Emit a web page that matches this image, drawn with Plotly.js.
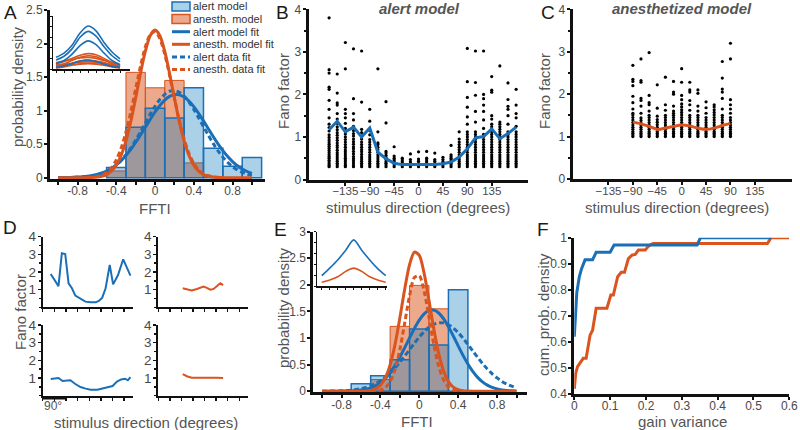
<!DOCTYPE html>
<html><head><meta charset="utf-8">
<script src="https://cdn.plot.ly/plotly-3.0.1.min.js"></script>
<style>html,body{margin:0;padding:0;background:#fff}#plot{width:800px;height:430px}</style>
</head><body><div id="plot"></div><script>
// ---------- DATA ----------
const fftiTickVals = [-1.0,-0.8,-0.6,-0.4,-0.2,0,0.2,0.4,0.6,0.8,1.0];
const fftiTickText = ['','-0.8','','-0.4','','0','','0.4','','0.8',''];
const aAlertBinX = [-0.4,-0.2,0,0.2,0.4,0.6,0.8,1.0];
const aAlertHist = [0.15,0.75,1.035,0.89,1.34,0.44,0.17,0.3];
const aAnesthBinX = [-0.4,-0.2,0,0.2,0.4];
const aAnesthHist = [0.1,1.57,1.34,1.45,0.22];
const eAlertBinX = [-0.6,-0.4,-0.2,0,0.2,0.4];
const eAlertHist = [0.14,0.29,0.59,1.17,0.87,1.91];
const eAnesthBinX = [-0.4,-0.2,0,0.2];
const eAnesthHist = [0.22,1.22,1.99,1.55];
const fitX = [-1.0,-0.95,-0.9,-0.85,-0.8,-0.75,-0.7,-0.65,-0.6,-0.55,-0.5,-0.45,-0.4,-0.35,-0.3,-0.25,-0.2,-0.15,-0.1,-0.05,0,0.05,0.1,0.15,0.2,0.25,0.3,0.35,0.4,0.45,0.5,0.55,0.6,0.65,0.7,0.75,0.8,0.85,0.9,0.95,1.0];
const aAlertModelFit = [0.001,0.002,0.003,0.005,0.008,0.013,0.020,0.031,0.047,0.069,0.099,0.139,0.19,0.254,0.331,0.421,0.524,0.636,0.752,0.868,0.979,1.077,1.156,1.211,1.238,1.235,1.202,1.142,1.059,0.958,0.846,0.729,0.613,0.503,0.403,0.315,0.240,0.178,0.130,0.092,0.064];
const aAnesthModelFit = [0,0,0,0,0,0,0.001,0.003,0.009,0.021,0.046,0.097,0.186,0.332,0.549,0.838,1.187,1.555,1.886,2.117,2.2,2.117,1.886,1.555,1.187,0.838,0.549,0.332,0.186,0.097,0.046,0.021,0.009,0.003,0.001,0,0,0,0,0,0];
const aAlertDataFit = [0.0005,0.001,0.0018,0.0032,0.0056,0.0096,0.016,0.026,0.041,0.062,0.092,0.134,0.188,0.257,0.342,0.443,0.558,0.684,0.815,0.944,1.064,1.166,1.243,1.288,1.299,1.274,1.215,1.127,1.018,0.893,0.762,0.633,0.511,0.401,0.306,0.228,0.164,0.116,0.079,0.053,0.034];
const aAnesthDataFit = [null,null,null,null,null,null,0.003,0.0075,0.018,0.038,0.078,0.149,0.265,0.44,0.68,0.982,1.322,1.661,1.949,2.132,2.177,2.074,1.844,1.529,1.183,0.855,0.576,0.362,0.213,0.116,0.059,0.028,0.013,0.005,0.002,null,null,null,null,null,null];
const eAlertModelFit = [0.0001,0.0002,0.0003,0.0007,0.0015,0.0031,0.0062,0.012,0.0216,0.038,0.064,0.104,0.162,0.242,0.349,0.482,0.640,0.817,1.002,1.181,1.337,1.454,1.519,1.525,1.471,1.363,1.214,1.039,0.854,0.675,0.512,0.373,0.261,0.176,0.114,0.071,0.042,0.024,0.013,0.007,0.004];
const eAnesthModelFit = [0,0,0,0,0,0,0.0002,0.0006,0.0013,0.005,0.015,0.044,0.110,0.248,0.494,0.875,1.376,1.919,2.379,2.616,2.555,2.215,1.704,1.164,0.706,0.380,0.182,0.077,0.029,0.0097,0.003,0,0,0,0,0,0,0,0,0,0];
const eAlertDataFit = [0.001,0.002,0.003,0.005,0.008,0.013,0.021,0.032,0.049,0.072,0.103,0.145,0.198,0.264,0.344,0.438,0.545,0.662,0.782,0.903,1.018,1.12,1.203,1.26,1.288,1.285,1.25,1.188,1.102,0.997,0.88,0.758,0.638,0.523,0.419,0.328,0.25,0.185,0.135,0.096,0.067];
const eAnesthDataFit = [null,null,null,null,null,null,null,null,null,null,0.0014,0.006,0.022,0.067,0.179,0.405,0.78,1.281,1.793,2.138,2.172,1.881,1.387,0.873,0.467,0.213,0.083,0.028,0.008,0.002,null,null,null,null,null,null,null,null,null,null,null];

const insetDirs = [-180,-135,-90,-45,0,45,90,135,180];
const aInsetAlert = [
  [0.22,0.3,0.45,0.68,0.81,0.72,0.5,0.32,0.19],
  [0.17,0.24,0.38,0.6,0.71,0.62,0.42,0.25,0.14],
  [0.1,0.16,0.28,0.44,0.53,0.46,0.3,0.16,0.08],
  [0.03,0.06,0.1,0.15,0.17,0.14,0.09,0.05,0.03]];
const aInsetAnesth = [
  [0.1,0.14,0.2,0.26,0.29,0.27,0.2,0.12,0.06],
  [0.06,0.1,0.16,0.22,0.25,0.23,0.17,0.1,0.05],
  [0.12,0.15,0.18,0.21,0.22,0.2,0.16,0.12,0.08],
  [0.04,0.07,0.11,0.15,0.17,0.15,0.12,0.07,0.03],
  [0.08,0.09,0.11,0.13,0.14,0.13,0.11,0.09,0.06],
  [0.02,0.04,0.07,0.1,0.11,0.1,0.07,0.04,0.02],
  [0.05,0.06,0.08,0.09,0.1,0.09,0.08,0.06,0.04]];
const eInsetAlert = [0.19,0.33,0.48,0.66,0.85,0.66,0.48,0.32,0.19];
const eInsetAnesth = [0.07,0.11,0.17,0.27,0.33,0.27,0.17,0.11,0.07];

const alertDirs = [-165,-150,-135,-120,-105,-90,-75,-60,-45,-30,-15,0,15,30,45,60,75,90,105,120,135,150,165,180];
const alertFano = [
  [0.3,0.33,0.37,0.41,0.45,0.5,0.54,0.58,0.63,0.68,0.73,0.78,0.83,0.88,0.93,0.99,1.05,1.14,1.22,1.3,1.45,1.65,1.86,2.12,2.17,2.5,2.58,3.8],
  [0.3,0.34,0.38,0.43,0.48,0.53,0.58,0.63,0.69,0.75,0.8,0.86,0.92,0.98,1.04,1.1,1.17,1.24,1.32,1.42,1.55,1.75,1.8,2.03,2.48],
  [0.3,0.33,0.37,0.42,0.46,0.5,0.55,0.6,0.65,0.7,0.76,0.82,0.88,0.94,1.0,1.07,1.13,1.2,1.32,1.45,1.55,1.65,2.6,3.22],
  [0.3,0.34,0.39,0.44,0.49,0.54,0.6,0.66,0.72,0.77,0.83,0.89,0.95,1.02,1.08,1.15,1.25,1.4,1.55,1.9,3.07],
  [0.3,0.34,0.38,0.43,0.48,0.53,0.59,0.65,0.7,0.76,0.82,0.88,0.95,1.02,1.1,1.18,1.82,3.02],
  [0.3,0.34,0.38,0.43,0.48,0.53,0.58,0.64,0.7,0.76,0.82,0.88,0.94,1.05,1.15,1.37,1.65],
  [0.3,0.34,0.38,0.43,0.48,0.53,0.58,0.64,0.7,0.76,0.82,0.86,1.12,2.6],
  [0.3,0.34,0.38,0.42,0.47,0.52,0.57,0.62,0.66,1.33,1.83],
  [0.3,0.34,0.38,0.42,0.46,0.5,0.55,0.77],
  [0.3,0.34,0.38,0.42,0.46,0.5],
  [0.3,0.34,0.38,0.42,0.47,0.6],
  [0.3,0.34,0.38,0.43,0.48,0.65],
  [0.3,0.34,0.38,0.42,0.46,0.5,0.66],
  [0.3,0.34,0.38,0.43,0.47,0.62],
  [0.3,0.34,0.38,0.42,0.47,0.52],
  [0.3,0.34,0.38,0.42,0.46,0.5,0.54,0.58,0.8],
  [0.3,0.34,0.38,0.43,0.48,0.53,0.58,0.64,0.7,0.76,0.82,0.88,0.95,1.12],
  [0.3,0.34,0.38,0.43,0.48,0.53,0.58,0.64,0.7,0.76,0.82,0.88,0.94,1.0,1.06,1.12,1.3,1.47,1.7,1.93,2.3,3.08],
  [0.3,0.34,0.38,0.43,0.48,0.53,0.58,0.64,0.7,0.76,0.82,0.88,0.94,1.0,1.06,1.12,1.35,1.6,1.98,2.28,3.02],
  [0.3,0.34,0.38,0.43,0.48,0.53,0.58,0.64,0.7,0.76,0.82,0.88,0.94,1.0,1.06,1.2,1.4,1.6,1.75,1.9,2.0,3.02],
  [0.3,0.34,0.38,0.43,0.48,0.53,0.58,0.64,0.7,0.76,0.82,0.88,0.94,1.0,1.06,1.12,1.18,1.24,1.3,1.42,1.5,2.05,2.1,2.42],
  [0.3,0.34,0.38,0.43,0.48,0.53,0.58,0.64,0.7,0.76,0.82,0.88,0.94,1.0,1.06,1.12,1.18,1.24,1.3,1.35,2.67],
  [0.3,0.34,0.38,0.43,0.48,0.53,0.58,0.64,0.7,0.76,0.82,0.88,0.94,1.0,1.06,1.12,1.3,1.5,1.65,1.72,1.88,2.27],
  [0.3,0.34,0.38,0.43,0.48,0.53,0.58,0.64,0.7,0.76,0.82,0.88,0.94,1.0,1.06,1.12,1.25,1.45,1.55,1.75,2.12]];
const alertMean = [1.17,1.37,1.12,1.23,1.0,1.21,0.64,0.49,0.38,0.35,0.35,0.35,0.35,0.35,0.37,0.41,0.53,0.72,0.98,1.01,1.19,0.96,1.08,1.23];

const anesthDirs = [-90,-75,-60,-45,-30,-15,0,15,30,45,60,75,90];
const anesthFano = [
  [1.0,1.04,1.08,1.12,1.17,1.22,1.27,1.33,1.39,1.45,1.51,1.55,1.65,1.8,1.95,2.2,2.3,2.35,2.68],
  [1.0,1.04,1.08,1.12,1.17,1.22,1.27,1.32,1.38,1.44,1.55,1.72,1.85,1.9,2.28,2.32,2.83],
  [1.0,1.04,1.08,1.12,1.17,1.22,1.27,1.33,1.39,1.45,1.5,1.6,1.75,1.8,1.97,2.98],
  [1.0,1.04,1.08,1.12,1.17,1.22,1.28,1.34,1.4,1.48,1.67,2.22],
  [1.0,1.04,1.08,1.12,1.17,1.22,1.27,1.33,1.39,1.45,1.5,1.62,1.75,2.4],
  [1.0,1.04,1.08,1.12,1.17,1.22,1.27,1.33,1.39,1.45,1.5,1.55,1.6,1.72,2.0,2.05,2.3],
  [1.0,1.04,1.08,1.12,1.17,1.22,1.27,1.33,1.39,1.45,1.51,1.57,1.63,1.7,1.77,1.87,1.97,2.28,2.6],
  [1.0,1.04,1.08,1.12,1.17,1.22,1.27,1.33,1.39,1.45,1.5,1.62,1.75,1.85,2.05,2.1,2.28],
  [1.0,1.04,1.08,1.12,1.17,1.22,1.27,1.33,1.39,1.45,1.5,1.6,1.72,2.02,2.1],
  [1.0,1.04,1.08,1.12,1.17,1.22,1.27,1.33,1.39,1.45,1.55,1.68,1.82],
  [1.0,1.04,1.08,1.12,1.17,1.22,1.27,1.33,1.39,1.45,1.51,1.57,1.63,1.7,1.75],
  [1.0,1.04,1.08,1.12,1.17,1.22,1.27,1.33,1.39,1.45,1.5,1.65,1.9,2.05,2.12,2.38,2.77],
  [1.0,1.04,1.08,1.12,1.17,1.22,1.27,1.33,1.39,1.45,1.55,1.65,1.75,1.87,2.83,3.2]];
const anesthMean = [1.34,1.3,1.24,1.17,1.2,1.24,1.27,1.25,1.2,1.17,1.2,1.26,1.31];

const dAlert1X = [-149,-132,-119,-106,-93,-80,-67,-54,-34,-15,5,24,37,50,63,79,92,111,131,159];
const dAlert1Y = [1.89,1.45,1.2,3.06,3.02,1.36,1.08,0.66,0.47,0.32,0.28,0.28,0.36,0.55,1.08,2.4,1.3,1.83,2.72,1.79];
const dAnesth1X = [-85,-69,-50,-30,-4,9,22,35,48,61,72];
const dAnesth1Y = [1.08,1.02,0.96,1.04,1.17,1.1,1.0,1.04,1.2,1.36,1.26];
const dAlert2X = [-149,-136,-119,-103,-89,-73,-54,-34,-14,5,31,51,73,90,107,123,138,149,159];
const dAlert2Y = [0.94,0.98,1.0,0.83,0.83,0.87,0.66,0.49,0.4,0.34,0.34,0.4,0.49,0.55,0.8,0.92,0.96,0.87,1.05];
const dAnesth2X = [-85,-69,-50,-30,-4,22,48,72];
const dAnesth2Y = [1.22,1.1,1.02,1.02,1.06,1.04,1.02,1.0];
const dTicks = [-180,-135,-90,-45,0,45,90,135];

const fAlertX = [0,0.003,0.007,0.014,0.02,0.03,0.051,0.061,0.1,0.111,0.343,0.352,0.55];
const fAlertY = [0.62,0.72,0.79,0.85,0.88,0.915,0.915,0.944,0.944,0.972,0.972,1.0,1.0];
const fAnesthX = [0,0.004,0.009,0.016,0.025,0.033,0.039,0.044,0.051,0.061,0.091,0.102,0.109,0.121,0.131,0.14,0.151,0.161,0.17,0.179,0.198,0.206,0.215,0.22,0.539,0.549,0.6];
const fAnesthY = [0.42,0.48,0.505,0.518,0.537,0.537,0.594,0.626,0.645,0.729,0.729,0.78,0.78,0.85,0.867,0.867,0.92,0.933,0.936,0.953,0.953,0.966,0.975,0.978,0.978,1.0,1.0];

// ---------- STYLE ----------
const BLUE = '#1a6fb6', ORANGE = '#d9541e';
const BLUE_FILL = 'rgba(0,114,189,0.33)', ORANGE_FILL = 'rgba(217,83,25,0.5)';
const FONT = 'Liberation Sans, Arial, Helvetica, sans-serif';
const px = v => v/800, py = v => 1 - v/430;
const xd = (l,r) => [px(l), px(r)];
const yd = (t,b) => [py(b), py(t)];

const traces = [];
function line(x, y, xa, ya, color, width, dash, shape) {
  traces.push({type:'scatter', mode:'lines', x:x, y:y, xaxis:xa, yaxis:ya, showlegend:false, hoverinfo:'skip',
    line:{color:color, width:width, dash:dash||'solid', shape:shape||'linear', smoothing:0.8}});
}
function bars(x, y, xa, ya, fill, edge, ew) {
  traces.push({type:'bar', x:x, y:y, width:0.2, xaxis:xa, yaxis:ya, showlegend:false, hoverinfo:'skip',
    marker:{color:fill, line:{color:edge, width:ew}}});
}
function dots(dirs, cols, xa, ya) {
  const xs = [], ys = [];
  cols.forEach((c, i) => c.forEach(v => { xs.push(dirs[i]); ys.push(v); }));
  traces.push({type:'scatter', mode:'markers', x:xs, y:ys, xaxis:xa, yaxis:ya, showlegend:false, hoverinfo:'skip',
    marker:{color:'#000', size:3.2}});
}

// A
bars(aAnesthBinX, aAnesthHist, 'x', 'y', ORANGE_FILL, ORANGE, 1);
bars(aAlertBinX, aAlertHist, 'x', 'y', BLUE_FILL, BLUE, 1.5);
line(fitX, aAlertModelFit, 'x', 'y', BLUE, 3, 'solid', 'spline');
line(fitX, aAlertDataFit, 'x', 'y', BLUE, 3, '5px,3px', 'spline');
line(fitX, aAnesthModelFit, 'x', 'y', ORANGE, 3, 'solid', 'spline');
line(fitX, aAnesthDataFit, 'x', 'y', ORANGE, 3, '5px,3px', 'spline');
aInsetAnesth.forEach(c => line(insetDirs, c, 'x2', 'y2', ORANGE, 1.6, 'solid', 'spline'));
aInsetAlert.forEach(c => line(insetDirs, c, 'x2', 'y2', BLUE, 1.6, 'solid', 'spline'));
// B
dots(alertDirs, alertFano, 'x3', 'y3');
line(alertDirs, alertMean, 'x3', 'y3', BLUE, 3);
// C
dots(anesthDirs, anesthFano, 'x4', 'y4');
line(anesthDirs, anesthMean, 'x4', 'y4', ORANGE, 3, 'solid', 'spline');
// D
line(dAlert1X, dAlert1Y, 'x5', 'y5', BLUE, 2);
line(dAnesth1X, dAnesth1Y, 'x6', 'y6', ORANGE, 2);
line(dAlert2X, dAlert2Y, 'x7', 'y7', BLUE, 2);
line(dAnesth2X, dAnesth2Y, 'x8', 'y8', ORANGE, 2);
// E
bars(eAnesthBinX, eAnesthHist, 'x9', 'y9', ORANGE_FILL, ORANGE, 1);
bars(eAlertBinX, eAlertHist, 'x9', 'y9', BLUE_FILL, BLUE, 1.5);
line(fitX, eAlertModelFit, 'x9', 'y9', BLUE, 3, 'solid', 'spline');
line(fitX, eAlertDataFit, 'x9', 'y9', BLUE, 3, '5px,3px', 'spline');
line(fitX, eAnesthModelFit, 'x9', 'y9', ORANGE, 3, 'solid', 'spline');
line(fitX, eAnesthDataFit, 'x9', 'y9', ORANGE, 3, '5px,3px', 'spline');
line(insetDirs, eInsetAnesth, 'x10', 'y10', ORANGE, 1.6, 'solid', 'spline');
line(insetDirs, eInsetAlert, 'x10', 'y10', BLUE, 1.6, 'solid', 'spline');
// F
line(fAnesthX, fAnesthY, 'x11', 'y11', ORANGE, 3);
line(fAlertX, fAlertY, 'x11', 'y11', BLUE, 3);

// ---------- AXES ----------
const tf = {family:FONT, size:12, color:'#4a4a4a'};
function ax(o) {
  return Object.assign({showgrid:false, zeroline:false, showline:true, linecolor:'#111', linewidth:3,
    ticks:'outside', tickcolor:'#111', tickwidth:2, ticklen:3, tickfont:tf, tickangle:0, fixedrange:true}, o);
}
function xax(o) { return ax(Object.assign({ticklabelstandoff:-4}, o)); }
function yax(o) { return ax(Object.assign({ticklabelstandoff:-1}, o)); }
function inset(o) {
  return Object.assign({showgrid:false, zeroline:false, showline:true, linecolor:'#111', linewidth:1.5,
    ticks:'outside', tickcolor:'#111', tickwidth:1, ticklen:2, showticklabels:false, fixedrange:true}, o);
}
const dirFont = {family:FONT, size:11.5, color:'#4a4a4a'};
const dFont = {family:FONT, size:13.5, color:'#4a4a4a'};
const minorY = {dtick:0.5, ticks:'outside', ticklen:2, tickwidth:2, tickcolor:'#111'};
const minorD = {dtick:0.5, ticks:'outside', ticklen:2, tickwidth:1.5, tickcolor:'#111'};
const layout = {
  width:800, height:430, margin:{l:0,r:0,t:0,b:0}, paper_bgcolor:'#fff', plot_bgcolor:'rgba(0,0,0,0)',
  barmode:'overlay', showlegend:false, hovermode:false,
  // A
  xaxis: xax({domain:xd(50,265), range:[-1.084,1.135], anchor:'y', tickmode:'array', tickvals:fftiTickVals, ticktext:fftiTickText}),
  yaxis: yax({domain:yd(10,179), range:[-0.02,2.5], anchor:'x', tickmode:'array', tickvals:[0,0.5,1,1.5,2,2.5]}),
  xaxis2: inset({domain:xd(53,130), range:[-197,236], anchor:'y2', tickmode:'array', tickvals:dTicks.concat([180])}),
  yaxis2: inset({domain:yd(16,69), range:[0,1], anchor:'x2', tickmode:'array', tickvals:[0,0.2,0.4,0.6,0.8,1]}),
  // B
  xaxis3: xax({domain:xd(308.5,527.5), range:[-203,201], anchor:'y3', tickmode:'array', tickvals:[-135,-90,-45,0,45,90,135], tickfont:dirFont}),
  yaxis3: yax({domain:yd(9.3,179.5), range:[0,4], anchor:'x3', tickmode:'array', tickvals:[0,1,2,3,4], minor:minorY}),
  // C
  xaxis4: xax({domain:xd(572.7,791.7), range:[-201,203], anchor:'y4', tickmode:'array', tickvals:[-135,-90,-45,0,45,90,135], tickfont:dirFont}),
  yaxis4: yax({domain:yd(9.3,179), range:[0,4], anchor:'x4', tickmode:'array', tickvals:[0,1,2,3,4], minor:minorY}),
  // D
  xaxis5: ax({domain:xd(42.7,133.3), range:[-180,170], anchor:'y5', linewidth:2, tickwidth:1.5, tickmode:'array', tickvals:dTicks, showticklabels:false}),
  yaxis5: yax({domain:yd(236.7,307.3), range:[0,4], anchor:'x5', linewidth:2, tickwidth:1.5, tickmode:'array', tickvals:[1,2,3,4], tickfont:dFont, minor:minorD}),
  xaxis6: ax({domain:xd(158.3,248.3), range:[-180,170], anchor:'y6', linewidth:2, tickwidth:1.5, tickmode:'array', tickvals:dTicks, showticklabels:false}),
  yaxis6: yax({domain:yd(236.7,307.3), range:[0,4], anchor:'x6', linewidth:2, tickwidth:1.5, tickmode:'array', tickvals:[1,2,3,4], tickfont:dFont, minor:minorD}),
  xaxis7: ax({domain:xd(42.7,133.3), range:[-180,170], anchor:'y7', linewidth:2, tickwidth:1.5, tickmode:'array', tickvals:dTicks, showticklabels:false}),
  yaxis7: yax({domain:yd(325,395.7), range:[0,4], anchor:'x7', linewidth:2, tickwidth:1.5, tickmode:'array', tickvals:[1,2,3,4], tickfont:dFont, minor:minorD}),
  xaxis8: ax({domain:xd(158.3,248.3), range:[-180,170], anchor:'y8', linewidth:2, tickwidth:1.5, tickmode:'array', tickvals:dTicks, showticklabels:false}),
  yaxis8: yax({domain:yd(325,395.7), range:[0,4], anchor:'x8', linewidth:2, tickwidth:1.5, tickmode:'array', tickvals:[1,2,3,4], tickfont:dFont, minor:minorD}),
  // E
  xaxis9: xax({domain:xd(313.3,527), range:[-1.09,1.108], anchor:'y9', tickmode:'array', tickvals:fftiTickVals, ticktext:fftiTickText}),
  yaxis9: yax({domain:yd(231.7,392.3), range:[-0.02,3], anchor:'x9', tickmode:'array', tickvals:[0,0.5,1,1.5,2,2.5,3]}),
  xaxis10: inset({domain:xd(317.3,387.3), range:[-205,189], anchor:'y10', tickmode:'array', tickvals:dTicks.concat([180])}),
  yaxis10: inset({domain:yd(231.7,286), range:[0,1], anchor:'x10', tickmode:'array', tickvals:[0,0.2,0.4,0.6,0.8,1]}),
  // F
  xaxis11: xax({domain:xd(574.3,789.3), range:[0,0.6], anchor:'y11', tickmode:'array', tickvals:[0,0.1,0.2,0.3,0.4,0.5,0.6]}),
  yaxis11: yax({domain:yd(237.7,394), range:[0.4,1], anchor:'x11', tickmode:'array', tickvals:[0.4,0.5,0.6,0.7,0.8,0.9,1]}),
  shapes: [], annotations: []
};

// ---------- TEXT ----------
const ann = layout.annotations;
function txt(t, x, y, o) {
  ann.push(Object.assign({text:t, xref:'paper', yref:'paper', x:px(x), y:py(y), showarrow:false,
    xanchor:'center', yanchor:'middle', font:{family:FONT, size:15, color:'#555'}}, o||{}));
}
[['A',2,12],['B',274,12],['C',539,12],['D',1,228],['E',272,229],['F',535,230]].forEach(l =>
  txt(l[0], l[1], l[2], {xanchor:'left', font:{family:FONT, size:19, color:'#1a1a1a'}}));
txt('<b><i>alert model</i></b>', 419, 9);
txt('<b><i>anesthetized model</i></b>', 682, 9);
txt('probability density', 17, 87, {textangle:-90});
txt('FFTI', 155, 208);
txt('Fano factor', 284, 91, {textangle:-90});
txt('stimulus direction (degrees)', 418, 207);
txt('Fano factor', 545, 91, {textangle:-90});
txt('stimulus direction (degrees)', 677, 207);
txt('Fano factor', 20, 312, {textangle:-90});
txt('stimulus direction (degrees)', 146, 422);
txt('90°', 43, 405.5, {xanchor:'left', borderpad:0, font:{family:FONT, size:12, color:'#555'}});
txt('probability density', 283, 308, {textangle:-90});
txt('FFTI', 417, 421);
txt('cum. prob. density', 543, 315, {textangle:-90});
txt('gain variance', 682, 421);

// scale bar in D
layout.shapes.push({type:'line', xref:'x7', yref:'paper', x0:-180, x1:-90, y0:py(398.5), y1:py(398.5), line:{color:'#111', width:2}});

// manual legend for A
const legRows = [
  {t:'alert model', kind:'box', fill:BLUE_FILL, c:BLUE},
  {t:'anesth. model', kind:'box', fill:ORANGE_FILL, c:ORANGE},
  {t:'alert model fit', kind:'line', c:BLUE, dash:'solid'},
  {t:'anesth. model fit', kind:'line', c:ORANGE, dash:'solid'},
  {t:'alert data fit', kind:'line', c:BLUE, dash:'5px,3px'},
  {t:'anesth. data fit', kind:'line', c:ORANGE, dash:'5px,3px'}];
legRows.forEach((r, i) => {
  const yc = 6.5 + 12.6*i;
  if (r.kind === 'box') {
    layout.shapes.push({type:'rect', xref:'paper', yref:'paper', x0:px(172), x1:px(190), y0:py(yc+4.5), y1:py(yc-4.5),
      fillcolor:r.fill, line:{color:r.c, width:1.5}});
  } else {
    layout.shapes.push({type:'line', xref:'paper', yref:'paper', x0:px(172), x1:px(190), y0:py(yc), y1:py(yc),
      line:{color:r.c, width:3, dash:r.dash}});
  }
  txt(r.t, 192, yc, {xanchor:'left', borderpad:0, font:{family:FONT, size:11, color:'#333'}});
});

Plotly.newPlot('plot', traces, layout, {staticPlot:true, displayModeBar:false});
</script></body></html>
